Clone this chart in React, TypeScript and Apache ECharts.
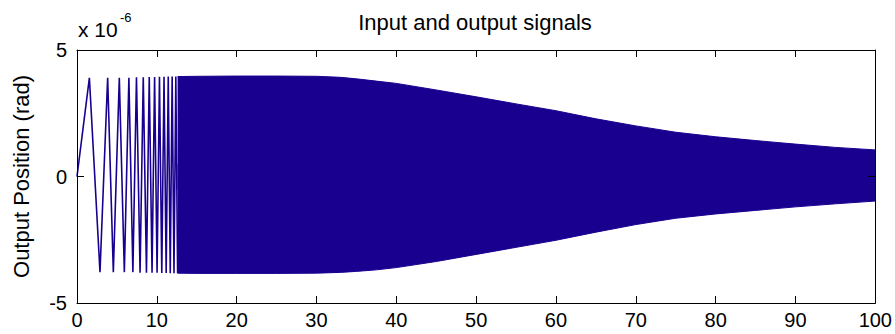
import React, { useEffect, useRef } from "react";
import * as echarts from "echarts";

// Values in units of 1e-6 rad (axis shows "x 10^-6")
const titleText = "Input and output signals";
const yAxisName = "Output Position (rad)";

// Early oscillation turning points (time, value)
const turnT = [0, 1.55, 2.88, 3.84, 4.55, 5.3, 5.93, 6.5, 7.0, 7.45, 7.9, 8.3, 8.7, 9.05, 9.4, 9.72, 10.03, 10.33, 10.62, 10.9, 11.17, 11.43, 11.68, 11.92, 12.15, 12.38, 12.6];
const turnV = [0, 3.9, -3.78, 3.9, -3.78, 3.9, -3.78, 3.9, -3.78, 3.92, -3.8, 3.92, -3.8, 3.93, -3.8, 3.93, -3.8, 3.94, -3.81, 3.94, -3.81, 3.95, -3.82, 3.95, -3.82, 3.95, -3.82];

// Dense oscillation envelope (time, upper, lower)
const envT = [12.6, 15, 20, 25, 30, 33, 35, 37.5, 40, 45, 50, 55, 60, 65, 70, 75, 80, 85, 90, 95, 100];
const envUpper = [3.95, 3.96, 3.97, 3.97, 3.96, 3.92, 3.86, 3.77, 3.68, 3.42, 3.15, 2.87, 2.6, 2.28, 2.0, 1.75, 1.57, 1.42, 1.28, 1.15, 1.05];
const envLower = [-3.82, -3.83, -3.83, -3.83, -3.82, -3.79, -3.75, -3.69, -3.6, -3.36, -3.08, -2.8, -2.52, -2.2, -1.9, -1.65, -1.48, -1.34, -1.2, -1.08, -0.97];

const xMin = 0, xMax = 100, xStep = 10;
const yMin = -5, yMax = 5, yStep = 5;

const SIG = "#1a008f";
const FONT = "'Liberation Sans', Arial, sans-serif";

export default function App() {
  const ref = useRef<HTMLDivElement>(null);
  useEffect(() => {
    const chart = echarts.init(ref.current!, null, { renderer: "svg" });
    const axLine = { show: true, onZero: false, lineStyle: { color: "#000", width: 1 } };
    const axTick = { show: true, inside: true, length: 7, lineStyle: { color: "#000", width: 1 } };
    const lbl = { color: "#000", fontFamily: FONT, fontSize: 20 };
    chart.setOption({
      animation: false,
      backgroundColor: "#fff",
      grid: { left: 77, right: 19, top: 50, bottom: 31, containLabel: false },
      xAxis: [
        { type: "value", min: xMin, max: xMax, interval: xStep, position: "bottom", axisLine: axLine, axisTick: axTick, axisLabel: { ...lbl, margin: 7 }, splitLine: { show: false }, z: 5 },
        { type: "value", min: xMin, max: xMax, interval: xStep, position: "top", axisLine: axLine, axisTick: axTick, axisLabel: { show: false }, splitLine: { show: false }, z: 5 },
      ],
      yAxis: [
        { type: "value", min: yMin, max: yMax, interval: yStep, position: "left", name: yAxisName, nameLocation: "middle", nameGap: 45, nameRotate: 90, nameTextStyle: { color: "#000", fontFamily: FONT, fontSize: 22 }, axisLine: axLine, axisTick: axTick, axisLabel: { ...lbl, margin: 10 }, splitLine: { show: false }, z: 5 },
        { type: "value", min: yMin, max: yMax, interval: yStep, position: "right", axisLine: axLine, axisTick: axTick, axisLabel: { show: false }, splitLine: { show: false }, z: 5 },
      ],
      graphic: [
        { type: "text", x: 475, y: 22, style: { text: titleText, fill: "#000", font: `22px ${FONT}`, textAlign: "center", textVerticalAlign: "middle" } },
        { type: "text", x: 78, y: 29, style: { text: "x 10", fill: "#000", font: `21px ${FONT}`, textAlign: "left", textVerticalAlign: "middle" } },
        { type: "text", x: 120, y: 17, style: { text: "-6", fill: "#000", font: `13px ${FONT}`, textAlign: "left", textVerticalAlign: "middle" } },
      ],
      series: [
        { type: "line", data: envT.map((t, i) => [t, envUpper[i]]), symbol: "none", lineStyle: { color: SIG, width: 1 }, areaStyle: { color: SIG, opacity: 1, origin: -0.5 }, z: 2 },
        { type: "line", data: envT.map((t, i) => [t, envLower[i]]), symbol: "none", lineStyle: { color: SIG, width: 1 }, areaStyle: { color: SIG, opacity: 1, origin: 0.5 }, z: 2 },
        { type: "line", data: turnT.map((t, i) => [t, turnV[i]]), symbol: "none", lineStyle: { color: SIG, width: 1.6 }, z: 3 },
      ],
    });
    return () => chart.dispose();
  }, []);
  return <div ref={ref} style={{ position: "fixed", left: 0, top: 0, width: 895, height: 334, background: "#fff" }} />;
}
